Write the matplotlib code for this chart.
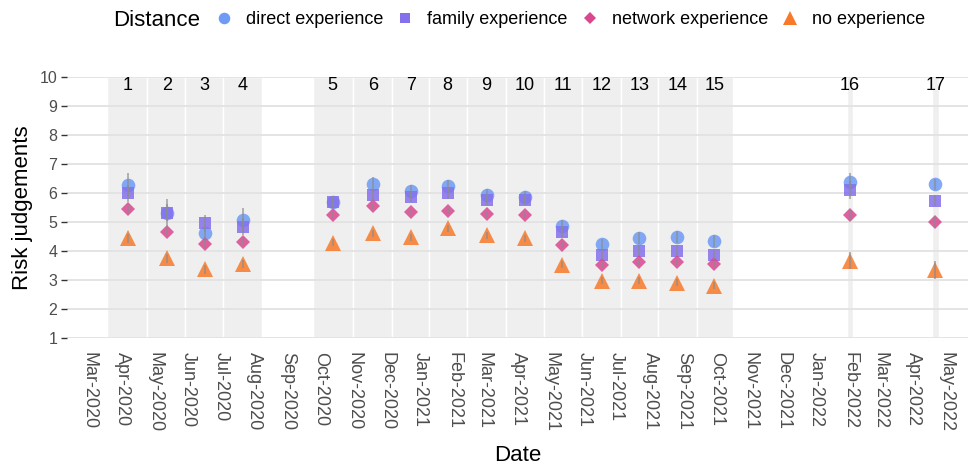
import matplotlib
matplotlib.use("Agg")
import matplotlib.pyplot as plt
import matplotlib.dates as mdates
from matplotlib.lines import Line2D
import numpy as np
import pandas as pd

plt.rcParams['font.family'] = ['Liberation Sans', 'DejaVu Sans']

# ---------------- data ----------------
waves = [str(i) for i in range(1, 18)]
wave_start = ["2020-03-18", "2020-04-24", "2020-05-29", "2020-07-03",
              "2020-09-24", "2020-10-31", "2020-12-06", "2021-01-09", "2021-02-13",
              "2021-03-21", "2021-04-25", "2021-05-30", "2021-07-05", "2021-08-08",
              "2021-09-13", "2022-01-29", "2022-04-18"]
wave_end = ["2020-04-24", "2020-05-29", "2020-07-03", "2020-08-08",
            "2020-10-31", "2020-12-06", "2021-01-09", "2021-02-13", "2021-03-21",
            "2021-04-25", "2021-05-30", "2021-07-05", "2021-08-08", "2021-09-13",
            "2021-10-16", "2022-02-04", "2022-04-24"]
wave_date = ["2020-04-06", "2020-05-12", "2020-06-16", "2020-07-21",
             "2020-10-12", "2020-11-18", "2020-12-23", "2021-01-26", "2021-03-03",
             "2021-04-07", "2021-05-12", "2021-06-17", "2021-07-22", "2021-08-26",
             "2021-09-29", "2022-02-01", "2022-04-21"]

direct = [6.28, 5.30, 4.61, 5.07, 5.68, 6.31, 6.07, 6.24, 5.93, 5.87,
          4.87, 4.23, 4.44, 4.49, 4.34, 6.39, 6.30]
family = [5.99, 5.32, 4.95, 4.84, 5.70, 5.93, 5.87, 5.99, 5.76, 5.76,
          4.67, 3.86, 4.01, 4.01, 3.86, 6.10, 5.74]
network = [5.44, 4.66, 4.24, 4.32, 5.24, 5.56, 5.34, 5.39, 5.26, 5.24,
           4.21, 3.52, 3.63, 3.63, 3.55, 5.24, 5.01]
noexp = [4.44, 3.75, 3.37, 3.55, 4.29, 4.61, 4.47, 4.78, 4.55, 4.44,
         3.52, 2.98, 2.98, 2.91, 2.80, 3.67, 3.34]

direct_err = [0.40, 0.50, 0.30, 0.40, 0.20, 0.25, 0.20, 0.22, 0.20, 0.20,
              0.20, 0.20, 0.20, 0.20, 0.20, 0.30, 0.20]
family_err = [0.30, 0.30, 0.30, 0.30, 0.18, 0.20, 0.18, 0.20, 0.18, 0.18,
              0.18, 0.18, 0.18, 0.18, 0.18, 0.30, 0.20]
network_err = [0.15, 0.15, 0.15, 0.15, 0.10, 0.10, 0.10, 0.10, 0.10, 0.10,
               0.10, 0.10, 0.10, 0.10, 0.10, 0.20, 0.20]
noexp_err = [0.15, 0.15, 0.15, 0.15, 0.12, 0.12, 0.12, 0.12, 0.12, 0.12,
             0.12, 0.12, 0.12, 0.12, 0.12, 0.30, 0.30]

series_names = ["direct experience", "family experience", "network experience", "no experience"]
series_colors = ["#6E9BF5", "#8470EC", "#D9478F", "#F8792A"]
series_markers = ["o", "s", "D", "^"]
series_sizes = [9.8, 9.2, 7.0, 11.8]

y_ticks = list(range(1, 11))
x_min, x_max = "2020-02-10", "2022-05-21"
month_ticks = pd.date_range("2020-03-01", "2022-05-01", freq="MS")

# ---------------- figure ----------------
W, H = 968, 468
fig = plt.figure(figsize=(W / 100, H / 100), dpi=100)
ax = fig.add_axes([67 / W, 1 - 338 / H, (W - 67) / W, (338 - 77) / H])

ws = mdates.date2num(pd.to_datetime(wave_start))
we = mdates.date2num(pd.to_datetime(wave_end))
wd = mdates.date2num(pd.to_datetime(wave_date))

for s, e in zip(ws, we):
    ax.axvspan(s, e, ymin=0, ymax=1, facecolor="#EFEFEF", edgecolor="white",
               linewidth=1.0, zorder=0)

ax.set_axisbelow(True)
ax.grid(axis="y", color="#E2E2E2", linewidth=1.3)
ax.grid(axis="x", visible=False)

all_vals = [direct, family, network, noexp]
all_errs = [direct_err, family_err, network_err, noexp_err]
for vals, errs, name, col, mk, ms in zip(all_vals, all_errs, series_names,
                                         series_colors, series_markers, series_sizes):
    ax.plot(wd, vals, linestyle="none", marker=mk, markersize=ms,
            color=col, alpha=0.85, markeredgewidth=0, zorder=3, label=name)
    ax.errorbar(wd, vals, yerr=errs, fmt="none", ecolor="#8C8C8C",
                elinewidth=1.2, capsize=0, alpha=0.75, zorder=4)

for w, x in zip(waves, wd):
    ax.text(x, 9.72, w, ha="center", va="center", fontsize=13, color="black", zorder=5)

ax.set_ylim(1, 10)
ax.set_xlim(mdates.date2num(pd.Timestamp(x_min)), mdates.date2num(pd.Timestamp(x_max)))
ax.set_yticks(y_ticks)
ax.set_yticklabels([str(v) for v in y_ticks], fontsize=11.5, color="#4D4D4D")
ax.set_xticks(mdates.date2num(month_ticks))
ax.set_xticklabels([d.strftime("%b-%Y") for d in month_ticks], rotation=-90,
                   fontsize=13, color="#4D4D4D", ha="center", va="top")
ax.tick_params(axis="y", length=4, width=1, color="#333333", pad=3)
ax.tick_params(axis="x", length=0, pad=10)
for sp in ax.spines.values():
    sp.set_visible(False)

ax.set_ylabel("Risk judgements", fontsize=16, labelpad=5)
ax.set_xlabel("Date", fontsize=16, labelpad=9)

# legend
fig.text(113 / W, 1 - 20 / H, "Distance", fontsize=16, ha="left", va="center")
handles = [Line2D([], [], linestyle="none", marker=mk, markersize=ms * 0.85,
                  color=col, markeredgewidth=0)
           for mk, ms, col in zip(series_markers, series_sizes, series_colors)]
fig.legend(handles, series_names, loc="center left",
           bbox_to_anchor=(215 / W, 1 - 20 / H), ncol=4, frameon=False,
           fontsize=13, handlelength=1.0, handletextpad=0.72, columnspacing=0.72,
           borderpad=0, borderaxespad=0)

fig.savefig("out.png", dpi=100)
